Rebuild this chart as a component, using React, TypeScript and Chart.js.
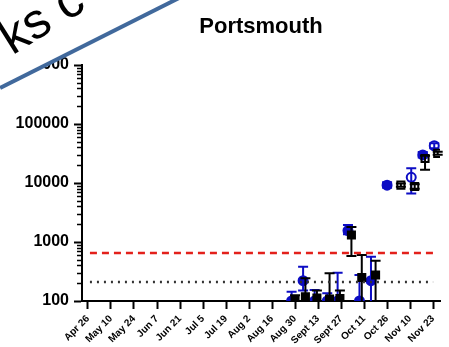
import React, { useEffect, useRef } from "react";
import { Chart, registerables } from "chart.js";

Chart.register(...registerables);

const TITLE = "Portsmouth";
const X_LABELS = [
  "Apr 26", "May 10", "May 24", "Jun 7", "Jun 21", "Jul 5", "Jul 19", "Aug 2",
  "Aug 16", "Aug 30", "Sept 13", "Sept 27", "Oct 11", "Oct 26", "Nov 10", "Nov 23",
];
const Y_TICKS = [100, 1000, 10000, 100000, 1000000];

// x in weeks since Apr 26
const BLUE_X = [17.7, 18.7, 19.7, 20.8, 21.7, 22.6, 23.6, 24.6, 26.0, 28.1, 29.1, 30.1];
const BLUE_Y = [100, 221, 100, 100, 100, 1560, 100, 221, 9200, 12500, 29900, 42800];
const BLUE_HI = [144, 382, 154, 135, 302, 1940, 276, 563, 10300, 17800, 33500, 47000];
const BLUE_LO = [100, 150, 100, 100, 100, 1350, 100, 100, 8300, 6650, 27000, 39000];
const BLUE_HOLLOW = [0, 0, 0, 0, 0, 0, 0, 0, 0, 1, 0, 1];

const BLACK_X = [18.0, 18.9, 19.9, 21.0, 21.9, 22.9, 23.8, 25.0, 27.2, 28.4, 29.3, 30.4];
const BLACK_Y = [105, 118, 112, 108, 110, 1310, 250, 276, 9200, 8700, 26000, 31800];
const BLACK_HI = [125, 242, 150, 295, 150, 1800, 600, 483, 9800, 9500, 29000, 34000];
const BLACK_LO = [100, 100, 100, 100, 100, 580, 100, 100, 8600, 8000, 16700, 30000];
const BLACK_HOLLOW = [0, 0, 0, 0, 0, 0, 0, 0, 1, 1, 1, 1];

const RED_LIMIT = 650;
const DOTTED_LIMIT = 210;
const LIMIT_X = [0.17, 30.0];

const FONT = '"Liberation Sans", Arial, sans-serif';
const BLUE = "#0d0dc4";

const errorBars = {
  id: "errorBars",
  beforeDatasetDraw(chart: any, args: any) {
    const ds = chart.data.datasets[args.index];
    if (!ds.errHi) return;
    const meta = chart.getDatasetMeta(args.index);
    const ys = chart.scales.y;
    const ctx = chart.ctx;
    ctx.save();
    ctx.strokeStyle = ds.borderColor;
    ctx.lineWidth = 2;
    meta.data.forEach((pt: any, i: number) => {
      const x = pt.x;
      const yh = ys.getPixelForValue(ds.errHi[i]);
      const yl = ys.getPixelForValue(ds.errLo[i]);
      const yc = pt.y;
      const cw = 5;
      ctx.beginPath();
      ctx.moveTo(x, yl);
      ctx.lineTo(x, yh);
      if (yc - yh > 1) {
        ctx.moveTo(x - cw, yh);
        ctx.lineTo(x + cw, yh);
      }
      if (yl - yc > 1 && ds.errLo[i] > 100.5) {
        ctx.moveTo(x - cw, yl);
        ctx.lineTo(x + cw, yl);
      }
      ctx.stroke();
    });
    ctx.restore();
  },
};

const minorTicks = {
  id: "minorTicks",
  afterDraw(chart: any) {
    const ys = chart.scales.y;
    const ctx = chart.ctx;
    const x0 = chart.chartArea.left;
    ctx.save();
    ctx.strokeStyle = "#000";
    ctx.lineWidth = 1.5;
    ctx.beginPath();
    for (let d = 100; d < 1000000; d *= 10) {
      for (let m = 2; m <= 9; m++) {
        const y = Math.round(ys.getPixelForValue(m * d)) + 0.5;
        ctx.moveTo(x0 - 5, y);
        ctx.lineTo(x0, y);
      }
    }
    ctx.stroke();
    ctx.restore();
  },
};

export default function App() {
  const ref = useRef<HTMLCanvasElement>(null);
  useEffect(() => {
    const chart = new Chart(ref.current as HTMLCanvasElement, {
      type: "scatter",
      data: {
        datasets: [
          {
            type: "line",
            data: LIMIT_X.map((x) => ({ x, y: RED_LIMIT })),
            borderColor: "#e3201b",
            borderWidth: 2.5,
            borderDash: [7, 5],
            pointRadius: 0,
            showLine: true,
          } as any,
          {
            type: "line",
            data: LIMIT_X.map((x) => ({ x, y: DOTTED_LIMIT })),
            borderColor: "#333",
            borderWidth: 2.5,
            borderDash: [2, 5],
            pointRadius: 0,
            showLine: true,
          } as any,
          {
            data: BLACK_X.map((x, i) => ({ x, y: BLACK_Y[i] })),
            pointStyle: "rect",
            pointRadius: 5,
            borderColor: "#000",
            pointBorderColor: "#000",
            pointBorderWidth: 2,
            pointBackgroundColor: BLACK_HOLLOW.map((h) => (h ? "rgba(0,0,0,0)" : "#000")),
            errHi: BLACK_HI,
            errLo: BLACK_LO,
          } as any,
          {
            data: BLUE_X.map((x, i) => ({ x, y: BLUE_Y[i] })),
            pointStyle: "circle",
            pointRadius: 4.5,
            borderColor: BLUE,
            pointBorderColor: BLUE,
            pointBorderWidth: 2,
            pointBackgroundColor: BLUE_HOLLOW.map((h) => (h ? "rgba(0,0,0,0)" : BLUE)),
            errHi: BLUE_HI,
            errLo: BLUE_LO,
          } as any,
        ],
      },
      options: {
        animation: false,
        responsive: false,
        layout: { padding: { left: 0, right: 9, top: 0, bottom: 0 } },
        plugins: {
          legend: { display: false },
          tooltip: { enabled: false },
          title: {
            display: true,
            text: TITLE,
            fullSize: false,
            color: "#000",
            font: { family: FONT, size: 22, weight: "bold" },
            padding: { top: 14, bottom: 24.6 },
          },
        },
        scales: {
          x: {
            type: "linear",
            min: -0.52,
            max: 30.6,
            afterBuildTicks: (s: any) => {
              s.ticks = X_LABELS.map((_, i) => ({ value: i * 2 }));
            },
            afterFit: (s: any) => {
              s.height = 46;
              s.paddingLeft = 0;
              s.paddingRight = 0;
            },
            ticks: {
              autoSkip: false,
              minRotation: 45,
              maxRotation: 45,
              padding: 4,
              color: "#000",
              font: { family: FONT, size: 10, weight: "bold" },
              callback: (v: any) => X_LABELS[Math.round(Number(v) / 2)] ?? "",
            },
            grid: { drawOnChartArea: false, tickLength: 8, tickWidth: 2, tickColor: "#000" },
            border: { display: true, width: 2, color: "#000" },
          },
          y: {
            type: "logarithmic",
            min: 100,
            max: 1000000,
            afterBuildTicks: (s: any) => {
              s.ticks = Y_TICKS.map((v) => ({ value: v }));
            },
            afterFit: (s: any) => {
              s.width = 82;
              s.paddingTop = 0;
              s.paddingBottom = 0;
            },
            ticks: {
              padding: 5,
              color: "#000",
              font: { family: FONT, size: 16, weight: "bold" },
              callback: (v: any) => String(v),
            },
            grid: { drawOnChartArea: false, tickLength: 8, tickWidth: 2, tickColor: "#000" },
            border: { display: true, width: 2, color: "#000" },
          },
        },
      },
      plugins: [errorBars, minorTicks],
    });
    return () => chart.destroy();
  }, []);

  return (
    <div style={{ position: "fixed", left: 0, top: 0, width: 449, height: 347, background: "#fff", overflow: "hidden" }}>
      <canvas ref={ref} width={449} height={347} style={{ display: "block" }} />
      <div
        style={{
          position: "absolute",
          left: 0,
          top: 0,
          width: 200,
          height: 100,
          background: "#fff",
          clipPath: "polygon(0 0, 174px 0, 0 88px)",
          pointerEvents: "none",
        }}
      />
      <div
        style={{
          position: "absolute",
          left: -10,
          top: 20,
          fontFamily: FONT,
          fontSize: 50,
          lineHeight: 1,
          color: "#000",
          whiteSpace: "nowrap",
          transform: "rotate(-32deg)",
          transformOrigin: "0 0",
          pointerEvents: "none",
        }}
      >
        ks c
      </div>
      <div
        style={{
          position: "absolute",
          left: 0,
          top: 86,
          width: 220,
          height: 3.5,
          background: "#41699c",
          transform: "rotate(-26.7deg)",
          transformOrigin: "0 50%",
          pointerEvents: "none",
        }}
      />
    </div>
  );
}
